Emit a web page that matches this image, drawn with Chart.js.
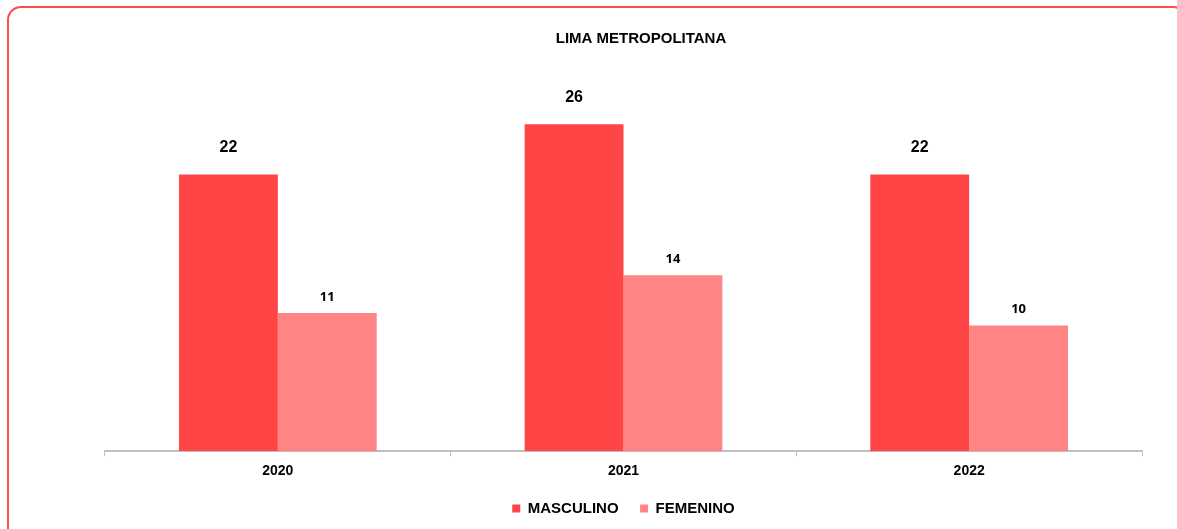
<!DOCTYPE html>
<html>
<head>
<meta charset="utf-8">
<script src="https://cdn.jsdelivr.net/npm/chart.js@4"></script>
<style>
  html, body { margin:0; padding:0; background:#fff; overflow:hidden; }
  #wrap { position:relative; width:1177px; height:529px; }
  #frame {
    position:absolute; left:7px; top:6px; width:1180px; height:540px;
    border:2px solid #FF4B4B; border-radius:14px; box-sizing:border-box;
  }
  #c { position:absolute; left:0; top:0; }
</style>
</head>
<body>
<div id="wrap">
  <div id="frame"></div>
  <canvas id="c" width="1177" height="529"></canvas>
</div>
<script>
// datos
const years = ['2020', '2021', '2022'];
const masculino = [22, 26, 22];
const femenino = [11, 14, 10];

const COL_MASC = '#FF4545';
const COL_FEM = '#FF8585';
const FONT = '"Liberation Sans", Arial, sans-serif';

// titulo sobre el grafico
const titlePlugin = {
  id: 'titulo',
  afterDraw(chart){
    const ctx = chart.ctx;
    ctx.save();
    ctx.font = 'bold 15px ' + FONT;
    ctx.fillStyle = '#000';
    ctx.textAlign = 'center';
    ctx.textBaseline = 'middle';
    ctx.fillText('LIMA METROPOLITANA', 641, 39);
    ctx.restore();
  }
};

// etiquetas de valor encima de cada barra
const valueLabels = {
  id: 'valores',
  afterDatasetsDraw(chart){
    const ctx = chart.ctx;
    ctx.save();
    ctx.fillStyle = '#000';
    ctx.textAlign = 'center';
    ctx.textBaseline = 'middle';
    chart.data.datasets.forEach((ds, i) => {
      const meta = chart.getDatasetMeta(i);
      const big = i === 0;
      ctx.font = big ? 'bold 16px ' + FONT : 'bold 13px "Open Sans", ' + FONT;
      meta.data.forEach((bar, j) => {
        ctx.fillText(String(ds.data[j]), bar.x, bar.y - (big ? 27 : 16));
      });
    });
    ctx.restore();
  }
};

// separacion extra entre los items de la leyenda
const baseLabels = Chart.defaults.plugins.legend.labels.generateLabels;
function legendLabels(chart){
  const items = baseLabels(chart);
  items.forEach((it, i) => { if (i < items.length - 1) it.text += '\u2002'; });
  return items;
}

new Chart(document.getElementById('c'), {
  type: 'bar',
  data: {
    labels: years,
    datasets: [
      { label: 'MASCULINO', data: masculino, backgroundColor: COL_MASC },
      { label: 'FEMENINO', data: femenino, backgroundColor: COL_FEM }
    ]
  },
  options: {
    responsive: false,
    animation: false,
    categoryPercentage: 0.572,
    barPercentage: 1,
    layout: { padding: { left: 105, right: 35, top: 74, bottom: 3 } },
    plugins: {
      title: { display: false },
      tooltip: { enabled: false },
      legend: {
        position: 'bottom',
        labels: {
          boxWidth: 8, boxHeight: 8, padding: 14,
          color: '#000',
          generateLabels: legendLabels,
          font: { family: FONT, size: 15, weight: 'bold' }
        }
      }
    },
    scales: {
      x: {
        grid: { display: true, drawOnChartArea: false, offset: true, tickLength: 5, color: '#BFBFBF', tickColor: '#BFBFBF' },
        border: { color: '#BFBFBF', width: 2 },
        ticks: { color: '#000', padding: 7, font: { family: FONT, size: 14, weight: 'bold' } }
      },
      y: {
        display: false,
        min: 0, max: 30
      }
    }
  },
  plugins: [titlePlugin, valueLabels]
});
</script>
</body>
</html>
